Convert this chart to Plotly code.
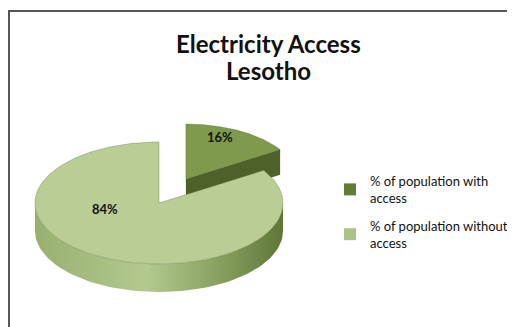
import numpy as np
import plotly.graph_objects as go

# ---- data ----
categories = ["% of population with access", "% of population without access"]
legend_names = ["% of population with<br>access", "% of population without<br>access"]
values = [16, 84]
title_lines = ["Electricity Access", "Lesotho"]

# ---- style ----
W, H = 515, 327
OFF = 8                    # page body margin compensation (pixels)
CX, CY = 159, 203          # centre of pie top face (window pixels)
RX, RY = 124, 61           # ellipse radii
DEPTH = 28                 # thickness of the 3D pie
EXPLODE = [0.45, 0.0]      # explode fraction along mid angle
SCALE = [0.9, 1.0]         # perspective shrink of exploded slice
TOP_COLORS = ["#7f9a4c", "#b9cd94"]
CUT_COLORS = ["#4d6129", "#6f8a45"]
SIDE_SCALES = [
    [[0, "#5c7530"], [0.5, "#6f8a40"], [1, "#3e5220"]],
    [[0, "#98b070"], [0.45, "#b3c98e"], [0.8, "#7f9856"], [1, "#5e7637"]],
]
LEGEND_COLORS = ["#5f7d37", "#aac382"]
LABEL_POS = [(220, 137), (105, 209)]
TITLE_Y = [43, 70]
FONT = "Lato, 'Open Sans', sans-serif"

fig = go.Figure()

total = float(sum(values))
cum = np.concatenate([[0.0], np.cumsum(values)])
slices = []
for i, v in enumerate(values):
    a0 = 90 - 360 * cum[i] / total
    a1 = 90 - 360 * cum[i + 1] / total
    mid = np.radians((a0 + a1) / 2)
    s = SCALE[i]
    cx = CX + EXPLODE[i] * RX * np.cos(mid)
    cy = CY - EXPLODE[i] * RY * np.sin(mid)
    slices.append(dict(i=i, a0=a0, a1=a1, mid=mid, cx=cx, cy=cy, rx=RX * s, ry=RY * s, d=DEPTH * s))

def rim(sl, t, dz=0.0):
    t = np.radians(t)
    return sl["cx"] + sl["rx"] * np.cos(t), sl["cy"] - sl["ry"] * np.sin(t) + dz

# draw back slices first
order = sorted(slices, key=lambda s: -np.sin(s["mid"]))
for sl in order:
    i = sl["i"]
    # cut faces
    for a, nrm in ((sl["a0"], sl["a0"] + 90), (sl["a1"], sl["a1"] - 90)):
        if np.sin(np.radians(nrm)) < -1e-6:
            px, py = rim(sl, a)
            xs = [sl["cx"], px, px, sl["cx"], sl["cx"]]
            ys = [sl["cy"], py, py + sl["d"], sl["cy"] + sl["d"], sl["cy"]]
            fig.add_trace(go.Scatter(x=xs, y=ys, mode="lines", fill="toself",
                                     fillcolor=CUT_COLORS[i], line=dict(width=0),
                                     hoverinfo="skip", showlegend=False))
    # outer side (front half only)
    lo, hi = sl["a1"], sl["a0"]
    for k in range(-2, 2):
        s0, s1 = max(lo, 180 + 360 * k), min(hi, 360 + 360 * k)
        if s1 > s0:
            ts = np.linspace(s0, s1, 80)
            top = [rim(sl, t) for t in ts]
            bot = [rim(sl, t, sl["d"]) for t in ts[::-1]]
            pts = top + bot + [top[0]]
            fig.add_trace(go.Scatter(x=[p[0] for p in pts], y=[p[1] for p in pts],
                                     mode="lines", fill="toself",
                                     fillgradient=dict(type="horizontal", colorscale=SIDE_SCALES[i]),
                                     line=dict(width=0), hoverinfo="skip", showlegend=False))
    # top face
    ts = np.linspace(sl["a0"], sl["a1"], 200)
    pts = [(sl["cx"], sl["cy"])] + [rim(sl, t) for t in ts] + [(sl["cx"], sl["cy"])]
    fig.add_trace(go.Scatter(x=[p[0] for p in pts], y=[p[1] for p in pts], mode="lines",
                             fill="toself", fillcolor=TOP_COLORS[i],
                             line=dict(width=0.6, color="rgba(70,90,40,0.5)"),
                             hoverinfo="text", text=categories[i], showlegend=False))

# legend entries
for i, name in enumerate(legend_names):
    fig.add_trace(go.Scatter(x=[None], y=[None], mode="markers", name=name,
                             legendgroup=f"g{i}",
                             marker=dict(symbol="square", size=7, color=LEGEND_COLORS[i])))

# data labels
for i, v in enumerate(values):
    fig.add_annotation(x=LABEL_POS[i][0], y=LABEL_POS[i][1], text=f"<b>{v}%</b>",
                       showarrow=False, font=dict(family=FONT, size=13, color="#111111"))

for line, ty in zip(title_lines, TITLE_Y):
    fig.add_annotation(x=268, y=ty, text=f"<b>{line}</b>", showarrow=False,
                       font=dict(family=FONT, size=24, color="#111111"))

# border
fig.add_shape(type="rect", x0=9, y0=11, x1=W + 20, y1=H + 20,
              line=dict(color="#555555", width=2), fillcolor="rgba(0,0,0,0)", layer="above")

fig.update_xaxes(range=[OFF, W + OFF], visible=False, fixedrange=True)
fig.update_yaxes(range=[H + OFF, OFF], visible=False, fixedrange=True)
fig.update_layout(width=W, height=H, autosize=False,
                  margin=dict(l=0, r=0, t=0, b=0),
                  paper_bgcolor="white", plot_bgcolor="white",
                  showlegend=True,
                  legend=dict(x=(330 - OFF) / W, y=1 - (166 - OFF) / H, xanchor="left", yanchor="top",
                              font=dict(family=FONT, size=13, color="#111111"),
                              tracegroupgap=8, itemsizing="constant",
                              bgcolor="rgba(0,0,0,0)"))

fig.write_html("out.html")
